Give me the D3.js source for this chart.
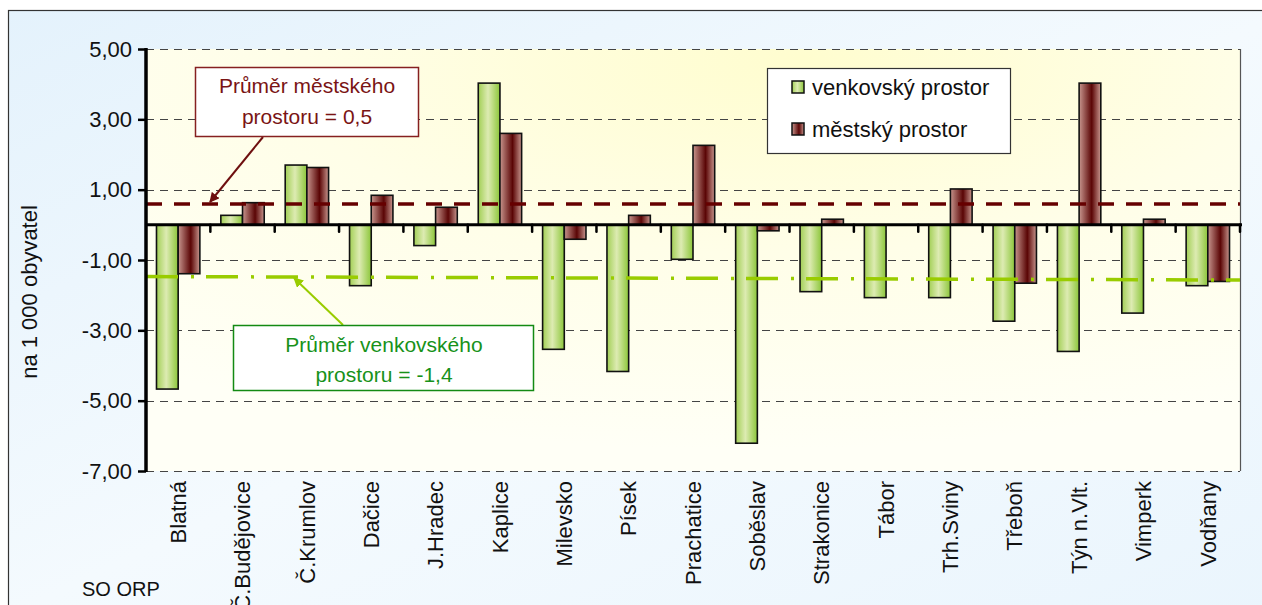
<!DOCTYPE html>
<html><head><meta charset="utf-8">
<script src="https://cdn.jsdelivr.net/npm/d3@7"></script>
<style>
html,body{margin:0;padding:0;background:#fff;}
svg{display:block;font-family:"Liberation Sans",Arial,sans-serif;}
</style></head>
<body>
<script>
const categories = ["Blatná","Č.Budějovice","Č.Krumlov","Dačice","J.Hradec","Kaplice","Milevsko","Písek","Prachatice","Soběslav","Strakonice","Tábor","Trh.Sviny","Třeboň","Týn n.Vlt.","Vimperk","Vodňany"];
const seriesNames = ["venkovský prostor","městský prostor"];
const ruralValues = [-4.67,0.27,1.70,-1.73,-0.59,4.03,-3.54,-4.17,-0.98,-6.21,-1.90,-2.07,-2.07,-2.74,-3.60,-2.51,-1.73];
const urbanValues = [-1.39,0.63,1.63,0.84,0.50,2.60,-0.41,0.27,2.26,-0.17,0.16,null,1.02,-1.66,4.03,0.16,-1.61];
const yTicks = [5,3,1,-1,-3,-5,-7];
const urbanAvgLine = [0.59,0.59];      // drawn level at left / right end
const ruralAvgLine = [-1.47,-1.57];    // drawn level at left / right end
const urbanAvgLabel = ["Průměr městského","prostoru = 0,5"];
const ruralAvgLabel = ["Průměr venkovského","prostoru = -1,4"];
const yTitle = "na 1 000 obyvatel";
const xTitle = "SO ORP";

const W = 1262, H = 605;
const L = 146, R = 1240, T = 49, B = 471;
const svg = d3.select("body").append("svg").attr("width", W).attr("height", H);
const defs = svg.append("defs");

const bg = defs.append("linearGradient").attr("id","bgGrad").attr("x1",0).attr("y1",0).attr("x2",1).attr("y2",1);
bg.append("stop").attr("offset",0).attr("stop-color","#E4F2FC");
bg.append("stop").attr("offset",0.5).attr("stop-color","#F4FAFE");
bg.append("stop").attr("offset",1).attr("stop-color","#EAF5FD");

const pg = defs.append("radialGradient").attr("id","plotGrad").attr("cx",0.55).attr("cy",0.05).attr("r",0.9).attr("fx",0.6).attr("fy",0.02);
pg.append("stop").attr("offset",0).attr("stop-color","#FFFDCF");
pg.append("stop").attr("offset",0.5).attr("stop-color","#FFFEE8");
pg.append("stop").attr("offset",1).attr("stop-color","#FFFFF6");

const gg = defs.append("linearGradient").attr("id","greenGrad").attr("x1",0).attr("x2",1).attr("y1",0).attr("y2",0);
gg.append("stop").attr("offset",0).attr("stop-color","#A2CF55");
gg.append("stop").attr("offset",0.45).attr("stop-color","#DDEBB2");
gg.append("stop").attr("offset",1).attr("stop-color","#8CC63A");
const rg = defs.append("linearGradient").attr("id","redGrad").attr("x1",0).attr("x2",1).attr("y1",0).attr("y2",0);
rg.append("stop").attr("offset",0).attr("stop-color","#C8968E");
rg.append("stop").attr("offset",0.58).attr("stop-color","#5A0505");
rg.append("stop").attr("offset",1).attr("stop-color","#C8968E");

function marker(id, color){
  defs.append("marker").attr("id",id).attr("viewBox","0 0 10 10").attr("refX",9).attr("refY",5)
    .attr("markerWidth",5).attr("markerHeight",5).attr("markerUnits","strokeWidth").attr("orient","auto")
    .append("path").attr("d","M0,0 L10,5 L0,10 Z").attr("fill",color);
}
marker("arrRed","#6E0F0F");
marker("arrGreen","#99CC00");

// outer frame
svg.append("rect").attr("x",0).attr("y",0).attr("width",W).attr("height",H).attr("fill","#fff");
svg.append("rect").attr("x",8.5).attr("y",10.5).attr("width",W+20).attr("height",H).attr("fill","url(#bgGrad)").attr("stroke","#333").attr("stroke-width",1.2);

const x = d3.scaleBand().domain(categories).range([L,R]).paddingInner(0).paddingOuter(0);
const bw = x.bandwidth();
const x1 = d3.scaleBand().domain(seriesNames).range([bw*0.163, bw*0.837]).padding(0);
const y = d3.scaleLinear().domain([-7,5]).range([B,T]);
const loc = d3.formatLocale({decimal:",",thousands:" ",grouping:[3],currency:["",""],minus:"-"});
const fmt = loc.format(".2f");

// plot area
svg.append("rect").attr("x",L).attr("y",T).attr("width",R-L).attr("height",B-T).attr("fill","url(#plotGrad)");
// gridlines
svg.append("g").selectAll("line").data(yTicks).join("line")
  .attr("x1",L).attr("x2",R).attr("y1",d=>Math.round(y(d))+0.5).attr("y2",d=>Math.round(y(d))+0.5)
  .attr("stroke","#444").attr("stroke-width",1.1).attr("stroke-dasharray","8,6");
svg.append("line").attr("x1",R+0.5).attr("x2",R+0.5).attr("y1",T).attr("y2",B).attr("stroke","#555").attr("stroke-width",1.2);

// bars
const data = categories.map((c,i)=>({c, vals:[{k:seriesNames[0],v:ruralValues[i]},{k:seriesNames[1],v:urbanValues[i]}]}));
const grp = svg.append("g").selectAll("g").data(data).join("g").attr("transform",d=>`translate(${x(d.c)},0)`);
grp.selectAll("rect").data(d=>d.vals.filter(e=>e.v!==null)).join("rect")
  .attr("x",d=>x1(d.k)).attr("width",x1.bandwidth())
  .attr("y",d=>y(Math.max(0,d.v))).attr("height",d=>Math.abs(y(d.v)-y(0)))
  .attr("fill",d=>d.k===seriesNames[0]?"url(#greenGrad)":"url(#redGrad)")
  .attr("stroke","#111").attr("stroke-width",1.6);

// average lines
svg.append("line").attr("x1",L).attr("x2",R).attr("y1",y(urbanAvgLine[0])).attr("y2",y(urbanAvgLine[1]))
  .attr("stroke","#660000").attr("stroke-width",3.5).attr("stroke-dasharray","16,12");
svg.append("line").attr("x1",L).attr("x2",R).attr("y1",y(ruralAvgLine[0])).attr("y2",y(ruralAvgLine[1]))
  .attr("stroke","#99CC00").attr("stroke-width",3.5).attr("stroke-dasharray","32,13,3,12");

// zero axis
svg.append("line").attr("x1",L).attr("x2",R+2).attr("y1",y(0)).attr("y2",y(0)).attr("stroke","#000").attr("stroke-width",3);
const bounds = categories.map(c=>x(c)+bw);
svg.append("g").selectAll("line").data(bounds).join("line")
  .attr("x1",d=>d).attr("x2",d=>d).attr("y1",y(0)).attr("y2",y(0)+7)
  .attr("stroke","#000").attr("stroke-width",2.5).attr("stroke-linecap","round");

// y axis
const yAxis = d3.axisLeft(y).tickValues(yTicks).tickFormat(fmt).tickSize(8).tickPadding(6);
const ya = svg.append("g").attr("transform",`translate(${L},0)`).call(yAxis);
ya.select(".domain").remove();
ya.selectAll(".tick line").attr("stroke","#000").attr("stroke-width",2.5);
ya.selectAll(".tick text").attr("font-size",22).attr("fill","#111").attr("font-family","Liberation Sans, Arial, sans-serif");
svg.append("line").attr("x1",L).attr("x2",L).attr("y1",T-1).attr("y2",B+1).attr("stroke","#000").attr("stroke-width",3.5);

// x labels
svg.append("g").selectAll("text").data(categories).join("text")
  .attr("transform",d=>`translate(${x(d)+bw/2},481) rotate(-90)`)
  .attr("text-anchor","end").attr("dy","0.35em").attr("font-size",22).attr("fill","#111").text(d=>d);

// axis titles
svg.append("text").attr("transform","translate(29,292) rotate(-90)").attr("text-anchor","middle").attr("dy","0.35em")
  .attr("font-size",22).attr("fill","#111").text(yTitle);
svg.append("text").attr("x",82).attr("y",596).attr("font-size",20).attr("fill","#111").text(xTitle);

// annotation: urban
svg.append("line").attr("x1",263).attr("y1",137).attr("x2",210).attr("y2",202)
  .attr("stroke","#6E0F0F").attr("stroke-width",2).attr("marker-end","url(#arrRed)");
svg.append("rect").attr("x",195.5).attr("y",67.5).attr("width",223).attr("height",69).attr("fill","#fff").attr("stroke","#862020").attr("stroke-width",1.5);
svg.append("g").selectAll("text").data(urbanAvgLabel).join("text")
  .attr("x",307).attr("y",(d,i)=>93+i*31).attr("text-anchor","middle").attr("font-size",21).attr("fill","#7A1414").text(d=>d);

// annotation: rural
svg.append("line").attr("x1",343).attr("y1",325).attr("x2",294).attr("y2",278)
  .attr("stroke","#99CC00").attr("stroke-width",2).attr("marker-end","url(#arrGreen)");
svg.append("rect").attr("x",233.5).attr("y",325.5).attr("width",300).attr("height",65).attr("fill","#fff").attr("stroke","#138A13").attr("stroke-width",1.5);
svg.append("g").selectAll("text").data(ruralAvgLabel).join("text")
  .attr("x",384).attr("y",(d,i)=>352+i*30).attr("text-anchor","middle").attr("font-size",21).attr("fill","#17921A").text(d=>d);

// legend
svg.append("rect").attr("x",767.5).attr("y",68.5).attr("width",243).attr("height",85).attr("fill","#fff").attr("stroke","#333").attr("stroke-width",1.2);
const lg = svg.append("g").selectAll("g").data(seriesNames).join("g").attr("transform",(d,i)=>`translate(792,${81+i*42})`);
lg.append("rect").attr("width",12).attr("height",12).attr("fill",(d,i)=>i===0?"url(#greenGrad)":"url(#redGrad)").attr("stroke","#111").attr("stroke-width",1.5);
lg.append("text").attr("x",20).attr("y",6).attr("dy","0.35em").attr("font-size",22).attr("fill","#111").text(d=>d);
</script>
</body></html>
